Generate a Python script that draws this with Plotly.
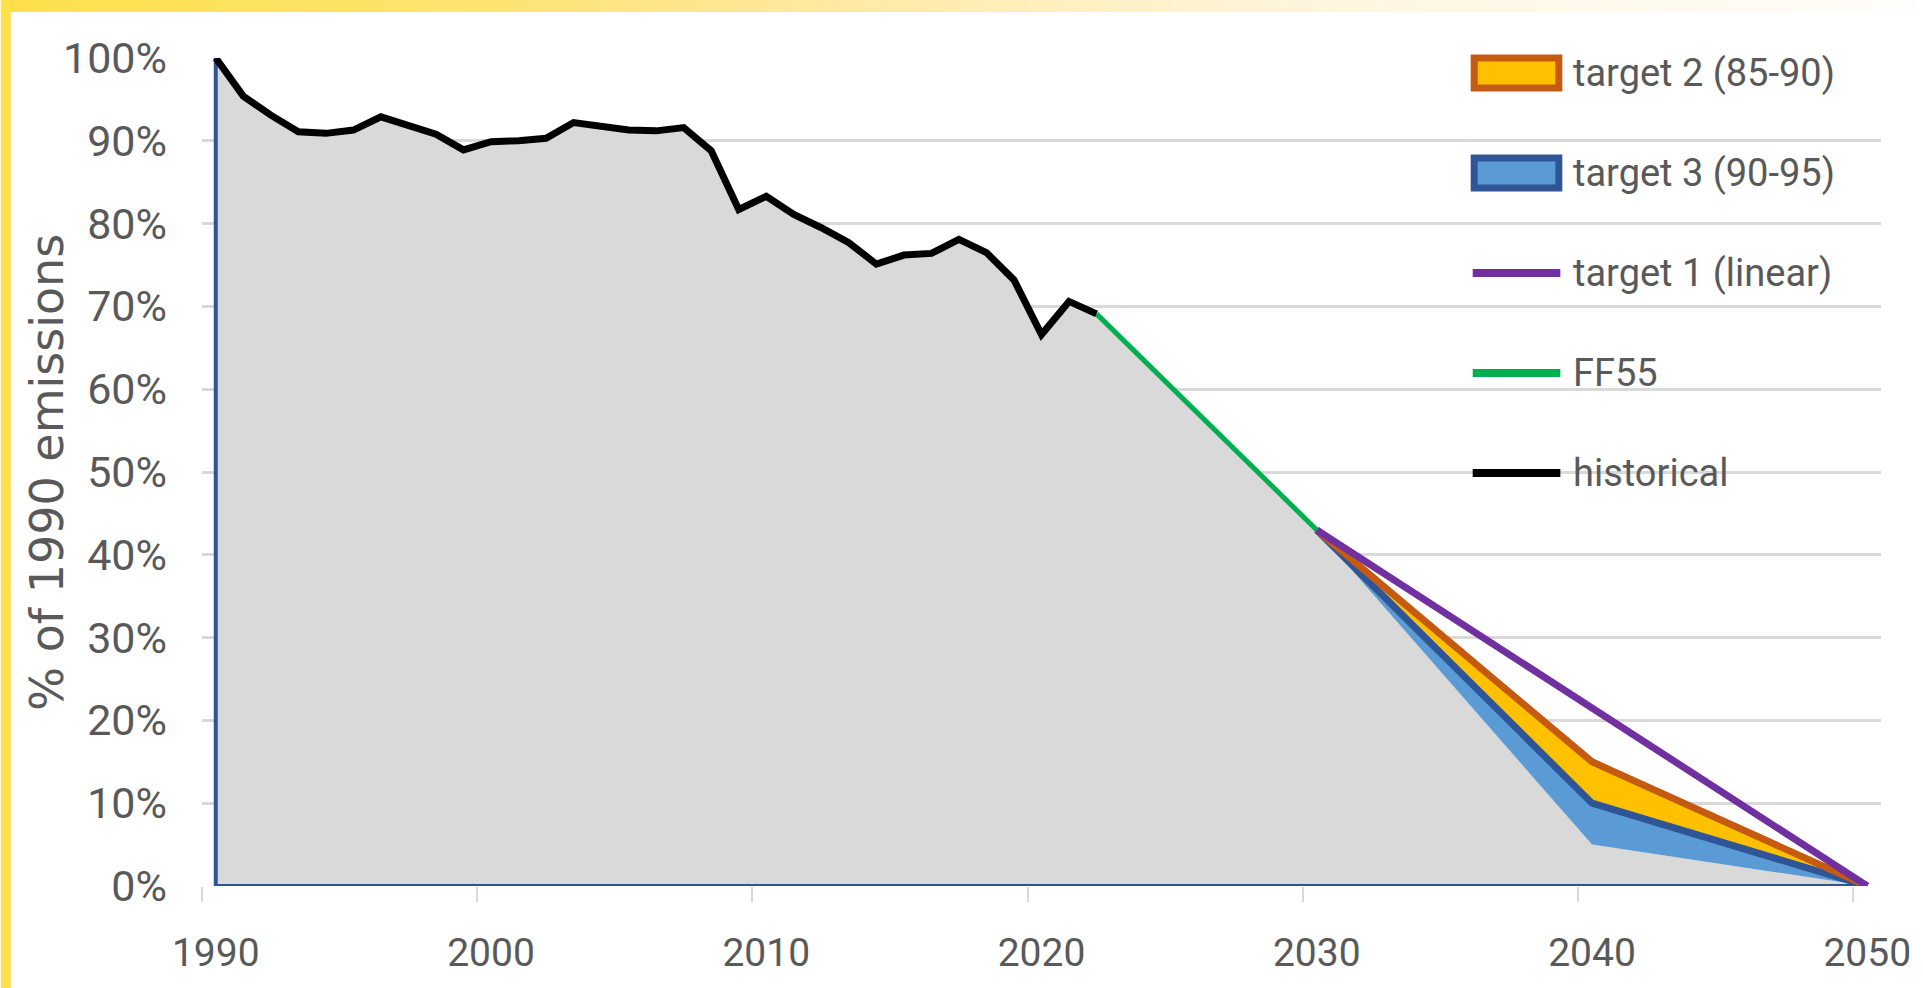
import plotly.graph_objects as go

# ---------------- data ----------------
hist_years = list(range(1990, 2023))
hist_vals = [1.000, 0.954, 0.931, 0.911, 0.909, 0.913, 0.929, 0.918, 0.908, 0.889,
             0.899, 0.900, 0.903, 0.922, 0.917, 0.913, 0.912, 0.916, 0.888, 0.817,
             0.833, 0.811, 0.795, 0.777, 0.751, 0.762, 0.764, 0.781, 0.765, 0.732,
             0.666, 0.706, 0.691]

ff55_years = [2022, 2030]
ff55_vals = [0.691, 0.43]

target_years = [2030, 2040, 2050]
t3_low = [0.43, 0.05, 0.0]    # target 3 (90-95) lower edge
t3_high = [0.43, 0.10, 0.0]   # target 3 (90-95) upper edge
t2_low = [0.43, 0.10, 0.0]    # target 2 (85-90) lower edge
t2_high = [0.43, 0.15, 0.0]   # target 2 (85-90) upper edge

t1_years = [2030, 2050]
t1_vals = [0.43, 0.0]

x_tick_years = [1990, 2000, 2010, 2020, 2030, 2040, 2050]
y_ticks = [0, 0.1, 0.2, 0.3, 0.4, 0.5, 0.6, 0.7, 0.8, 0.9, 1.0]

legend_names = ["target 2 (85-90)", "target 3 (90-95)", "target 1 (linear)", "FF55", "historical"]

# ---------------- styling ----------------
W, H = 1923, 988
L, R, T, B = 202, 35, 58, 102
PW, PH = W - L - R, H - T - B

GREY = "#D9D9D9"
TXT = "#595959"
NARROW = "Liberation Sans Narrow, Arial Narrow, Roboto, sans-serif"
C_T3_FILL, C_T3_LINE = "#5B9BD5", "#2F5597"
C_T2_FILL, C_T2_LINE = "#FFC000", "#C55A11"
C_T1 = "#7030A0"
C_FF55 = "#00B050"
C_HIST = "#000000"


def px2x(px):
    return (px - L) / PW


def px2y(py):
    return (H - B - py) / PH


fig = go.Figure()

# grey area under historical + FF55 + lower target band edge
area_x = hist_years + ff55_years[1:] + target_years[1:]
area_y = hist_vals + ff55_vals[1:] + t3_low[1:]
fig.add_trace(go.Scatter(x=area_x, y=area_y, mode="lines", fill="tozeroy",
                         fillcolor=GREY, line=dict(width=0), showlegend=False,
                         hoverinfo="skip"))
# thin blue outline (left and bottom edges of area)
fig.add_trace(go.Scatter(x=[area_x[0], area_x[0], area_x[-1]], y=[area_y[0], 0, 0],
                         mode="lines", line=dict(color=C_T3_LINE, width=4),
                         showlegend=False, hoverinfo="skip"))

# target 3 band
fig.add_trace(go.Scatter(x=target_years, y=t3_low, mode="lines",
                         line=dict(width=0, color=C_T3_FILL), showlegend=False,
                         hoverinfo="skip"))
fig.add_trace(go.Scatter(x=target_years, y=t3_high, mode="lines", fill="tonexty",
                         fillcolor=C_T3_FILL, line=dict(width=0),
                         showlegend=False))
# target 2 band
fig.add_trace(go.Scatter(x=target_years, y=t2_low, mode="lines",
                         line=dict(width=0), showlegend=False, hoverinfo="skip"))
fig.add_trace(go.Scatter(x=target_years, y=t2_high, mode="lines", fill="tonexty",
                         fillcolor=C_T2_FILL, line=dict(width=0),
                         showlegend=False))
# band edge lines
fig.add_trace(go.Scatter(x=target_years, y=t3_high, mode="lines",
                         line=dict(color=C_T3_LINE, width=7), showlegend=False))
fig.add_trace(go.Scatter(x=target_years, y=t2_high, mode="lines",
                         line=dict(color=C_T2_LINE, width=7), showlegend=False))
# target 1 linear
fig.add_trace(go.Scatter(x=t1_years, y=t1_vals, mode="lines",
                         line=dict(color=C_T1, width=7), showlegend=False))
# FF55
fig.add_trace(go.Scatter(x=ff55_years, y=ff55_vals, mode="lines",
                         line=dict(color=C_FF55, width=5), showlegend=False))
# historical
fig.add_trace(go.Scatter(x=hist_years, y=hist_vals, mode="lines",
                         line=dict(color=C_HIST, width=7), showlegend=False))

shapes = []
annotations = []

# ---- yellow frame: left bar and top gradient band ----
anchors = [(0, (255, 224, 75)), (500, (255, 228, 115)), (700, (255, 230, 143)),
           (1200, (255, 243, 210)), (1400, (255, 247, 228)), (1923, (255, 253, 250))]


def grad(px):
    for (x0, c0), (x1, c1) in zip(anchors[:-1], anchors[1:]):
        if x0 <= px <= x1:
            f = (px - x0) / (x1 - x0)
            return "rgb(%d,%d,%d)" % tuple(round(a + (b - a) * f) for a, b in zip(c0, c1))
    return "rgb(255,253,250)"


n = 80
for i in range(n):
    x0 = W * i / n
    x1 = W * (i + 1) / n + 1
    shapes.append(dict(type="rect", xref="paper", yref="paper",
                       x0=px2x(x0), x1=px2x(x1), y0=px2y(12), y1=px2y(0),
                       fillcolor=grad((x0 + x1) / 2), line=dict(width=0), layer="below"))
shapes.append(dict(type="rect", xref="paper", yref="paper",
                   x0=px2x(0), x1=px2x(10), y0=px2y(H), y1=px2y(0),
                   fillcolor="#FFE14B", line=dict(width=0), layer="below"))

# ---- manual legend ----
leg_x0, leg_x1, txt_x = 1476, 1568, 1577
row_y = [73, 173, 273, 373, 473]
for yc, fill, edge in [(row_y[0], C_T2_FILL, C_T2_LINE), (row_y[1], C_T3_FILL, C_T3_LINE)]:
    shapes.append(dict(type="rect", xref="paper", yref="paper",
                       x0=px2x(leg_x0 + 3.5), x1=px2x(leg_x1 - 3.5),
                       y0=px2y(yc + 15), y1=px2y(yc - 15),
                       fillcolor=fill, line=dict(color=edge, width=7)))
for yc, col in [(row_y[2], C_T1), (row_y[3], C_FF55), (row_y[4], C_HIST)]:
    shapes.append(dict(type="line", xref="paper", yref="paper",
                       x0=px2x(leg_x0 + 2), x1=px2x(leg_x1 - 2),
                       y0=px2y(yc), y1=px2y(yc), line=dict(color=col, width=8)))
for name, yc in zip(legend_names, row_y):
    annotations.append(dict(text=name, xref="paper", yref="paper",
                            x=px2x(txt_x), y=px2y(yc), xanchor="left", yanchor="middle",
                            showarrow=False, font=dict(family=NARROW, size=38, color=TXT)))

# ---- y-axis title ----
annotations.append(dict(text="% of 1990 emissions", xref="paper", yref="paper",
                        x=px2x(46), y=px2y(472), xanchor="center", yanchor="middle",
                        textangle=-90, showarrow=False,
                        font=dict(family="DejaVu Sans, sans-serif", size=46, color=TXT)))

fig.update_layout(
    width=W, height=H, autosize=False,
    margin=dict(l=L, r=R, t=T, b=B, pad=0),
    paper_bgcolor="white", plot_bgcolor="white",
    showlegend=False,
    shapes=shapes, annotations=annotations,
    xaxis=dict(range=[1989.5, 2050.5], tickmode="array", tickvals=x_tick_years,
               ticktext=[str(v) for v in x_tick_years], ticks="", showgrid=False,
               zeroline=False, showline=False, ticklabelstandoff=40,
               ticklabeloverflow="allow",
               tickfont=dict(family=NARROW, size=39, color=TXT),
               minor=dict(tick0=1989.5, dtick=10, ticks="outside", ticklen=15,
                          tickwidth=2, tickcolor=GREY, showgrid=False)),
    yaxis=dict(range=[0, 1], tickmode="array", tickvals=y_ticks, tickformat=".0%",
               ticks="", showgrid=True, gridcolor=GREY, gridwidth=3, zeroline=False,
               showline=False, ticklabelstandoff=34,
               tickfont=dict(family=NARROW, size=43, color=TXT)),
)

fig.write_html("out.html", config={"displayModeBar": False},
               post_script="document.body.style.margin='0';document.body.style.overflow='hidden';")
